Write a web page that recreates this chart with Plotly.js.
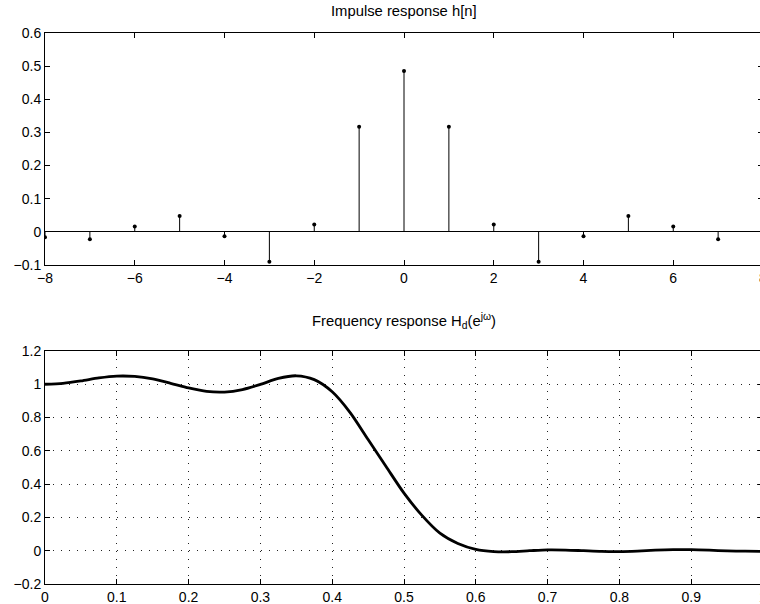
<!DOCTYPE html>
<html>
<head>
<meta charset="utf-8">
<script src="https://cdn.plot.ly/plotly-3.0.1.min.js"></script>
<style>
html,body{margin:0;padding:0;overflow:hidden;background:#fff;width:760px;height:604px}
#chart{width:770px;height:604px}
</style>
</head>
<body>
<div id="chart"></div>
<script>
// Impulse response h[n]
const nIdx = [-8, -7, -6, -5, -4, -3, -2, -1, 0, 1, 2, 3, 4, 5, 6, 7];
const hVals = [-0.016, -0.022, 0.016, 0.048, -0.013, -0.090, 0.022, 0.317, 0.485, 0.317, 0.022, -0.090, -0.013, 0.048, 0.016, -0.022];

// Frequency response (normalized frequency, magnitude)
const freq = [0, 0.025, 0.05, 0.075, 0.1, 0.125, 0.15, 0.175, 0.2, 0.225, 0.25, 0.275, 0.3, 0.325, 0.35, 0.375, 0.4, 0.425, 0.45, 0.475, 0.5, 0.525, 0.55, 0.575, 0.6, 0.625, 0.65, 0.675, 0.7, 0.725, 0.75, 0.775, 0.8, 0.825, 0.85, 0.875, 0.9, 0.925, 0.95, 0.975, 1.0];
const mag = [1.000, 1.006, 1.020, 1.038, 1.049, 1.047, 1.032, 1.006, 0.978, 0.957, 0.953, 0.968, 0.999, 1.035, 1.051, 1.028, 0.955, 0.830, 0.668, 0.506, 0.346, 0.212, 0.105, 0.043, 0.008, -0.005, -0.006, 0.000, 0.005, 0.004, 0.000, -0.004, -0.005, -0.002, 0.003, 0.006, 0.006, 0.003, -0.001, -0.003, -0.004];

// Tick values
const topXTicks = [-8, -6, -4, -2, 0, 2, 4, 6, 8];
const topYTicks = [-0.1, 0, 0.1, 0.2, 0.3, 0.4, 0.5, 0.6];
const botXTicks = [0, 0.1, 0.2, 0.3, 0.4, 0.5, 0.6, 0.7, 0.8, 0.9, 1];
const botYTicks = [-0.2, 0, 0.2, 0.4, 0.6, 0.8, 1, 1.2];

// Build stem segments from data
const stemX = [], stemY = [];
nIdx.forEach((v, i) => { stemX.push(v, v, null); stemY.push(0, hVals[i], null); });

const FONT = 'Liberation Sans, Arial, Helvetica, sans-serif';

const traces = [
  {x: stemX, y: stemY, mode: 'lines', line: {color: '#000', width: 1}, xaxis: 'x', yaxis: 'y', hoverinfo: 'skip'},
  {x: nIdx, y: hVals, mode: 'markers', marker: {color: '#000', size: 4}, xaxis: 'x', yaxis: 'y'},
  {x: freq, y: mag, mode: 'lines', line: {color: '#000', width: 2.8, shape: 'spline', smoothing: 0.8}, xaxis: 'x2', yaxis: 'y2'}
];

const axBase = {
  showline: true, linecolor: '#000', linewidth: 1, mirror: 'ticks',
  ticks: 'inside', ticklen: 5, tickwidth: 1, tickcolor: '#000',
  tickfont: {family: FONT, size: 14, color: '#000'},
  zeroline: false, showgrid: false, fixedrange: true
};

const layout = {
  width: 770, height: 604,
  margin: {l: 45, r: 7, t: 33, b: 20},
  paper_bgcolor: '#fff', plot_bgcolor: '#fff',
  showlegend: false, hovermode: false,
  font: {family: FONT, size: 14, color: '#000'},
  xaxis: Object.assign({}, axBase, {domain: [0, 1], anchor: 'y', range: [-8, 8], tickmode: 'array', tickvals: topXTicks}),
  yaxis: Object.assign({}, axBase, {domain: [0.5789, 1], anchor: 'x', range: [-0.1, 0.6], tickmode: 'array', tickvals: topYTicks,
    zeroline: true, zerolinecolor: '#000', zerolinewidth: 1}),
  xaxis2: Object.assign({}, axBase, {domain: [0, 1], anchor: 'y2', range: [0, 1], tickmode: 'array', tickvals: botXTicks,
    showgrid: true, gridcolor: '#222', gridwidth: 1, griddash: '1px,7px'}),
  yaxis2: Object.assign({}, axBase, {domain: [0, 0.4229], anchor: 'x2', range: [-0.2, 1.2], tickmode: 'array', tickvals: botYTicks,
    showgrid: true, gridcolor: '#222', gridwidth: 1, griddash: '1px,7px'}),
  annotations: [
    {text: 'Impulse response h[n]', xref: 'paper', yref: 'paper', x: 0.5, y: 1.04, xanchor: 'center', yanchor: 'middle',
     showarrow: false, font: {family: FONT, size: 14.8, color: '#000'}},
    {text: 'Frequency response H<sub>d</sub>(e<sup>jω</sup>)', xref: 'paper', yref: 'paper', x: 0.5, y: 0.4773, xanchor: 'center', yanchor: 'middle',
     showarrow: false, font: {family: FONT, size: 14.8, color: '#000'}}
  ]
};

Plotly.newPlot('chart', traces, layout, {staticPlot: true, displayModeBar: false});
</script>
</body>
</html>
